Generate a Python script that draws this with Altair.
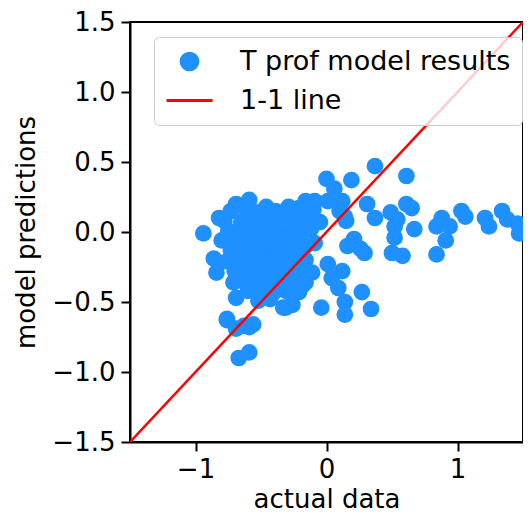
import altair as alt
import pandas as pd

# scatter values (actual data, model predictions)
actual = [
    0.37, 0.61, 0.00, 0.19, 0.06, 0.31, 0.37, 0.49, 0.61, 0.65, 0.54, 0.52, 0.67, 0.52, 0.50, 0.58,
    0.88, 0.84, 0.94, 0.91, 0.84, 1.03, 1.06, 1.21, 1.24, 1.34, 1.38, 1.46, 1.47,
    0.29, 0.21, 0.16, 0.01, 0.12, -0.14, -0.18, 0.04, 0.09, 0.27, 0.14, 0.14, -0.04, 0.34,
    -0.16, -0.09, 0.01, 0.12, 0.10, 0.15, -0.09, -0.16, -0.23, 0.14, 0.26,
    -0.94, -0.82, -0.69, -0.59, -0.46, -0.39, -0.29, -0.21, -0.86, -0.84, -0.71, -0.69, -0.76,
    -0.69, -0.59, -0.67, -0.59, -0.31, -0.21, -0.16, -0.11, -0.76, -0.63, -0.56, -0.33, -0.26,
    -0.73, -0.61, -0.52, -0.42, -0.31, -0.20, -0.10,
    -0.78, -0.65, -0.55, -0.46, -0.37, -0.26, -0.15, -0.05,
    -0.75, -0.64, -0.54, -0.45, -0.34, -0.24, -0.12,
    -0.80, -0.69, -0.60, -0.50, -0.40, -0.30, -0.20,
    -0.73, -0.63, -0.52, -0.42, -0.33, -0.24,
    -0.76, -0.67, -0.57, -0.46, -0.37, -0.27, -0.16,
    -0.70, -0.60, -0.50, -0.40, -0.30, -0.20,
    -0.63, -0.54, -0.45, -0.35, -0.25,
    -0.60, -0.50, -0.40, -0.31,
    -0.52, -0.43,
]
predicted = [
    0.47, 0.40, 0.38, 0.37, 0.31, 0.20, 0.10, 0.14, 0.20, 0.17, 0.09, 0.04, 0.02, -0.04, -0.15, -0.17,
    0.10, 0.04, 0.04, -0.06, -0.16, 0.15, 0.11, 0.10, 0.04, 0.15, 0.09, 0.06, -0.01,
    -0.15, -0.05, -0.10, -0.23, -0.28, -0.29, -0.38, -0.33, -0.40, -0.43, -0.50, -0.59, -0.54, -0.55,
    0.22, 0.22, 0.22, 0.22, 0.15, 0.08, -0.08, -0.10, 0.00, 0.11, -0.12,
    -0.01, 0.10, 0.20, 0.23, 0.18, 0.15, 0.18, 0.17, -0.19, -0.29, -0.36, -0.47, -0.62,
    -0.69, -0.68, -0.90, -0.86, -0.54, -0.43, -0.36, -0.29, -0.63, -0.67, -0.66, -0.54, -0.52,
    0.15, 0.16, 0.14, 0.15, 0.13, 0.15, 0.16,
    0.08, 0.07, 0.09, 0.08, 0.07, 0.09, 0.08, 0.07,
    0.01, 0.00, 0.02, 0.01, 0.00, 0.01, 0.02,
    -0.06, -0.07, -0.05, -0.06, -0.07, -0.06, -0.05,
    -0.13, -0.14, -0.13, -0.12, -0.14, -0.13,
    -0.21, -0.20, -0.21, -0.22, -0.20, -0.21, -0.20,
    -0.28, -0.27, -0.29, -0.28, -0.27, -0.28,
    -0.35, -0.36, -0.34, -0.35, -0.36,
    -0.42, -0.41, -0.43, -0.42,
    -0.49, -0.48,
]

series = ["T prof model results", "1-1 line"]
colors = ["#1E90FF", "red"]
line_x = [-1.5, 1.5]
line_y = [-1.5, 1.5]
x_ticks = [-1, 0, 1]
y_ticks = [-1.5, -1.0, -0.5, 0.0, 0.5, 1.0, 1.5]

pts = pd.DataFrame({"actual": actual, "pred": predicted, "series": series[0]})
ln = pd.DataFrame({"actual": line_x, "pred": line_y, "series": series[1]})

xs = alt.Scale(domain=[-1.5, 1.5], nice=False, zero=False)
ys = alt.Scale(domain=[-1.5, 1.5], nice=False, zero=False)

legend = alt.Legend(
    title=None, orient="none", legendX=24, legendY=15, padding=11,
    labelFontSize=27, labelFont="DejaVu Sans", labelColor="black", labelOffset=26,
    labelLimit=0,
    strokeColor="#cccccc", fillColor="rgba(255,255,255,0.8)", cornerRadius=5,
    symbolStrokeWidth=3, rowPadding=0,
)
cscale = alt.Scale(domain=series, range=colors)

X = alt.X("actual:Q", scale=xs, title="actual data",
          axis=alt.Axis(values=x_ticks, format="d", labelPadding=5, titlePadding=4))
Y = alt.Y("pred:Q", scale=ys, title="model predictions",
          axis=alt.Axis(values=y_ticks, format=".1f", labelPadding=6, titlePadding=12))

scatter = alt.Chart(pts).mark_point(filled=True, opacity=1, clip=True, strokeWidth=0).encode(
    x=X, y=Y,
    color=alt.Color("series:N", scale=cscale, legend=legend),
    shape=alt.Shape("series:N", scale=alt.Scale(domain=series, range=["circle", "stroke"]), legend=legend),
    size=alt.Size("series:N", scale=alt.Scale(domain=series, range=[280, 2116]), legend=legend),
)

line = alt.Chart(ln).mark_line(strokeWidth=2.5, clip=True).encode(
    x=X, y=Y,
    color=alt.Color("series:N", scale=cscale, legend=legend),
)

chart = alt.layer(scatter, line).properties(
    width=393, height=420,
    autosize=alt.AutoSizeParams(type="none"),
    padding={"left": 122, "top": 14, "right": 0, "bottom": 71},
).configure_view(stroke="black", strokeWidth=2).configure_axis(
    grid=False, domainColor="black", domainWidth=2, tickColor="black", tickWidth=2,
    tickSize=9, labelFontSize=26, labelFont="DejaVu Sans", labelColor="black",
    titleFontSize=26, titleFont="DejaVu Sans", titleColor="black",
    titleFontWeight="normal",
)

chart.save("out.html", embed_options={"renderer": "svg", "actions": False})
